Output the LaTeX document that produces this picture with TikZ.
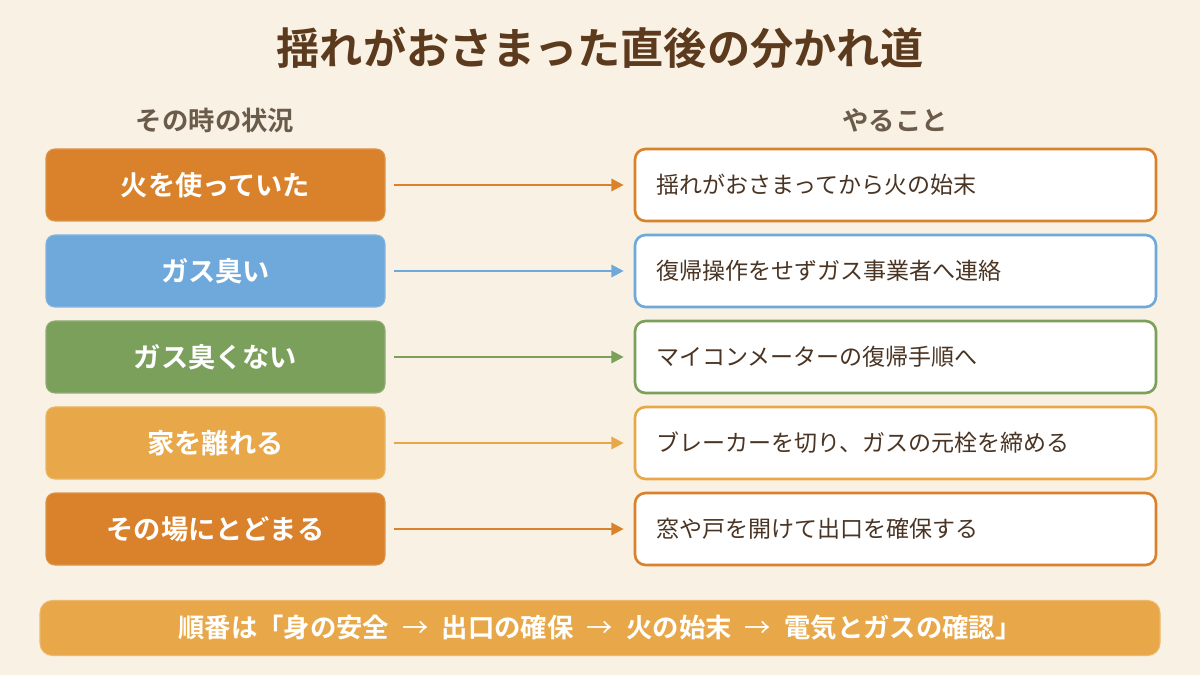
\documentclass[tikz,border=0pt]{standalone}
\usepackage{fontspec}
\setmainfont{Noto Sans CJK JP}[BoldFont={Noto Sans CJK JP Bold}]
\usetikzlibrary{arrows.meta}
\definecolor{bg}{HTML}{F9F1E3}
\definecolor{titlec}{HTML}{5C3A1E}
\definecolor{subc}{HTML}{6B5B4B}
\definecolor{txtc}{HTML}{4A3423}
\definecolor{c1}{HTML}{D9822B}
\definecolor{c2}{HTML}{6FA8DA}
\definecolor{c3}{HTML}{7BA05B}
\definecolor{c4}{HTML}{E8A84A}
\tikzset{
  x=0.02cm, y=-0.02cm,
  leftbox/.style={fill=#1, draw=#1!85!white, line width=0.6pt, rounded corners=5pt,
    minimum width=339*0.02cm, minimum height=72*0.02cm, text=white,
    font=\fontsize{15.5pt}{18pt}\selectfont\bfseries, inner sep=0pt},
  rightbox/.style={fill=white, draw=#1, line width=1.5pt, rounded corners=6pt,
    minimum width=521*0.02cm, minimum height=72*0.02cm},
  rtext/.style={text=txtc, font=\fontsize{13.1pt}{15pt}\selectfont, anchor=west, inner sep=0pt},
  conn/.style={draw=#1, line width=1.3pt, -{Triangle[length=7pt,width=7pt]}},
  subhead/.style={text=subc, font=\fontsize{15pt}{18pt}\selectfont\bfseries},
}
\begin{document}
\begin{tikzpicture}
\fill[bg] (0,0) rectangle (1200,675);
\useasboundingbox (0,0) rectangle (1200,675);
\node[text=titlec, font=\fontsize{24.6pt}{30pt}\selectfont\bfseries] (title) at (600,48) {揺れがおさまった直後の分かれ道};
\node[subhead] (hl) at (215,120) {その時の状況};
\node[subhead] (hr) at (895,120) {やること};
% rows
\foreach \i/\y/\c/\l/\r in {
  1/185/c1/火を使っていた/揺れがおさまってから火の始末,
  2/271/c2/ガス臭い/復帰操作をせずガス事業者へ連絡,
  3/357/c3/ガス臭くない/マイコンメーターの復帰手順へ,
  4/443/c4/家を離れる/ブレーカーを切り、ガスの元栓を締める,
  5/529/c1/その場にとどまる/窓や戸を開けて出口を確保する}{
  \node[leftbox=\c] (L\i) at (215.5,\y) {\l};
  \node[rightbox=\c] (R\i) at (895.5,\y) {};
  \node[rtext] (T\i) at ([xshift=22*0.02cm]R\i.west) {\r};
  \draw[conn=\c] ([xshift=8*0.02cm]L\i.east) -- ([xshift=-10*0.02cm]R\i.west);
}
\node[fill=c4, draw=c4!80!white, line width=0.6pt, rounded corners=7pt,
  minimum width=1120*0.02cm, minimum height=55*0.02cm, text=white,
  font=\fontsize{15pt}{18pt}\selectfont\bfseries] (bar) at (600,628)
  {順番は「身の安全\enspace{\mdseries →}\enspace 出口の確保\enspace{\mdseries →}\enspace 火の始末\enspace{\mdseries →}\enspace 電気とガスの確認」};
\end{tikzpicture}
\end{document}
